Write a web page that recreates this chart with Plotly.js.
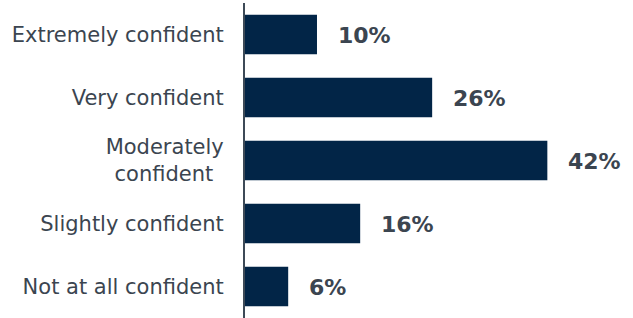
<!DOCTYPE html>
<html>
<head>
<meta charset="utf-8">
<script src="https://cdn.plot.ly/plotly-3.0.1.min.js"></script>
<style>html,body{margin:0;padding:0;background:#fff;}#chart{width:633px;height:318px;}</style>
</head>
<body>
<div id="chart"></div>
<script>
const categories = ["Extremely confident", "Very confident", "Moderately<br>confident\u2002", "Slightly confident", "Not at all confident"];
const values = [10, 26, 42, 16, 6];
const valueLabels = ["10%", "26%", "42%", "16%", "6%"];

const barColor = "#022547";
const textColor = "#3b4550";
const fontFam = "Verdana, 'DejaVu Sans', sans-serif";

const trace = {
  type: "bar",
  orientation: "h",
  y: categories,
  x: values,
  width: 0.63,
  marker: {color: barColor},
  hoverinfo: "skip"
};

const annotations = values.map((v, i) => ({
  x: v, y: categories[i], xref: "x", yref: "y",
  text: "<b>" + valueLabels[i] + "</b>",
  showarrow: false, xanchor: "left", yanchor: "middle",
  xshift: 19, yshift: -1,
  font: {family: fontFam, size: 22, color: textColor}
}));

const layout = {
  width: 633, height: 318,
  margin: {l: 245, r: 0, t: 3, b: 0},
  paper_bgcolor: "#fff", plot_bgcolor: "#fff",
  showlegend: false,
  font: {family: fontFam, color: textColor},
  xaxis: {range: [0, 53.9], visible: false, fixedrange: true},
  yaxis: {
    type: "category",
    autorange: "reversed",
    showline: true, linecolor: "#3d4a57", linewidth: 2,
    showgrid: false, zeroline: false,
    ticks: "", ticklabelstandoff: 15,
    tickfont: {family: fontFam, size: 21, color: textColor},
    fixedrange: true
  },
  annotations: annotations
};

Plotly.newPlot("chart", [trace], layout, {displayModeBar: false, staticPlot: true});
</script>
</body>
</html>
